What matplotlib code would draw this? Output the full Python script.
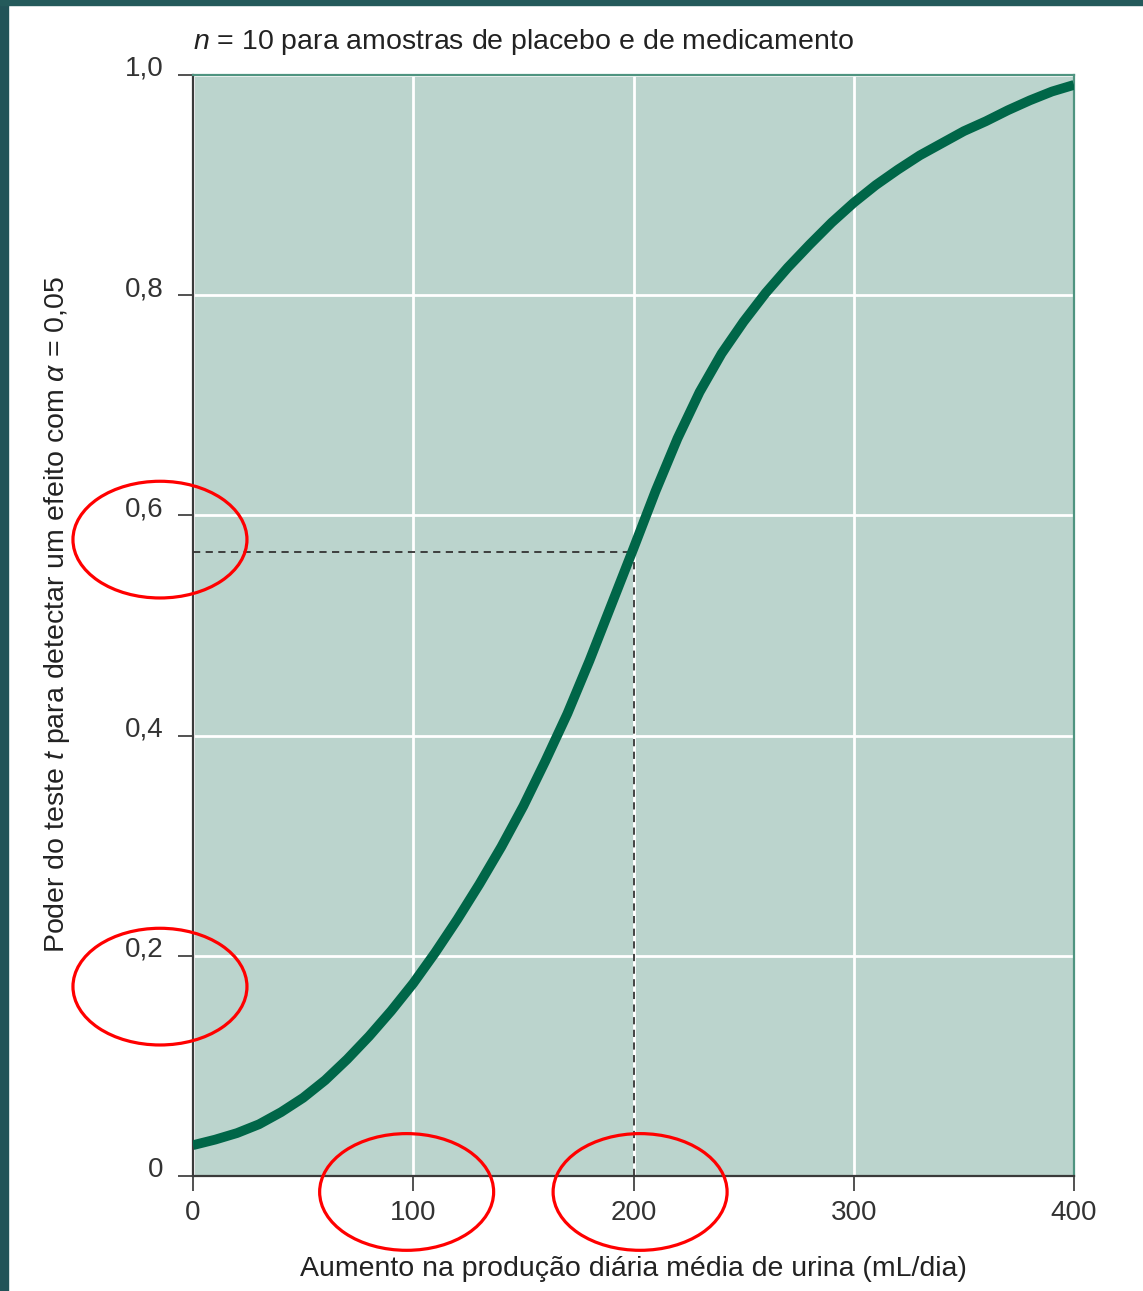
import numpy as np
import matplotlib.pyplot as plt
from matplotlib.patches import Ellipse, Rectangle
from matplotlib.transforms import ScaledTranslation

# Curve: power of the t test vs. effect size (mL/dia)
effect = [0, 10, 20, 30, 40, 50, 60, 70, 80, 90, 100,
          110, 120, 130, 140, 150, 160, 170, 180, 190, 200,
          210, 220, 230, 240, 250, 260, 270, 280, 290, 300,
          310, 320, 330, 340, 350, 360, 370, 380, 390, 400]
power = [0.028, 0.033, 0.039, 0.047, 0.058, 0.071, 0.087, 0.106, 0.127, 0.150, 0.175,
         0.203, 0.233, 0.265, 0.299, 0.336, 0.377, 0.420, 0.468, 0.519, 0.570,
         0.622, 0.670, 0.712, 0.747, 0.776, 0.802, 0.825, 0.846, 0.866, 0.884,
         0.900, 0.914, 0.927, 0.938, 0.949, 0.958, 0.968, 0.977, 0.985, 0.991]

# Reading marked on the chart
mark_x = 200
mark_power = 0.567

x_ticks = [0, 100, 200, 300, 400]
y_ticks = [0, 0.2, 0.4, 0.6, 0.8, 1.0]
y_tick_labels = ['0', '0,2', '0,4', '0,6', '0,8', '1,0']

# red circles drawn over some tick labels (data coords, centre)
circled = [(-15, 0.578), (-15, 0.172), (97, -0.0145), (203, -0.0145)]

plt.rcParams['font.family'] = ['Liberation Sans', 'DejaVu Sans']
plt.rcParams['mathtext.fontset'] = 'custom'
plt.rcParams['mathtext.rm'] = 'Liberation Sans'
plt.rcParams['mathtext.it'] = 'Liberation Sans:italic'

fig = plt.figure(figsize=(11.43, 12.91), dpi=100)
ax = fig.add_axes([193 / 1143, 1 - 1176 / 1291, 881 / 1143, 1101 / 1291])
ax.set_facecolor('#bbd4cd')

ax.plot(effect, power, color='#006648', lw=7, solid_capstyle='butt',
        solid_joinstyle='round', zorder=4)
ax.plot([0, mark_x], [mark_power, mark_power], color='#333333', lw=1.3,
        dashes=(4, 3), zorder=3)
ax.plot([mark_x, mark_x], [0, mark_power], color='#333333', lw=1.3,
        dashes=(4, 3), zorder=3)

ax.set_xlim(0, 400)
ax.set_ylim(0, 1.0)
ax.set_xticks(x_ticks)
ax.set_yticks(y_ticks)
ax.set_yticklabels(y_tick_labels)
ax.grid(True, color='white', lw=2.0, zorder=1)
ax.set_axisbelow(True)

ax.tick_params(axis='both', direction='out', length=11, width=1.2, color='#333333',
               labelsize=20, labelcolor='#333333')
ax.tick_params(axis='y', pad=10)
ax.tick_params(axis='x', pad=6)
for lab in ax.get_yticklabels():
    lab.set_transform(lab.get_transform() + ScaledTranslation(0, 0.09, fig.dpi_scale_trans))

for side in ['left', 'bottom']:
    ax.spines[side].set_color('#3a3a3a')
    ax.spines[side].set_linewidth(1.6)
for side in ['top', 'right']:
    ax.spines[side].set_color('#4f9480')
    ax.spines[side].set_linewidth(1.6)

ax.set_xlabel('Aumento na produção diária média de urina (mL/dia)', fontsize=20.5,
              color='#222222')
ax.xaxis.set_label_coords(0.5, -0.073)
ax.set_ylabel(r'Poder do teste $t$ para detectar um efeito com $\alpha$ = 0,05',
              fontsize=20.5, color='#222222')
ax.yaxis.set_label_coords(-0.137, 0.51)

ax.text(0, 1.03, r'$n$ = 10 para amostras de placebo e de medicamento',
        transform=ax.transAxes, ha='left', va='center', fontsize=20.5, color='#222222')

for cx, cy in circled:
    ax.add_patch(Ellipse((cx, cy), 79, 0.106, fill=False, edgecolor='#ff0000',
                         lw=2.3, clip_on=False, zorder=6))

# dark frame strips along the left and top edges
fig.patches.append(Rectangle((0, 0), 8 / 1143, 1, transform=fig.transFigure,
                             color='#225358', zorder=0))
fig.patches.append(Rectangle((0, 1 - 5 / 1291), 1, 5 / 1291, transform=fig.transFigure,
                             color='#245a5b', zorder=0))

fig.savefig('out.png', dpi=100)
